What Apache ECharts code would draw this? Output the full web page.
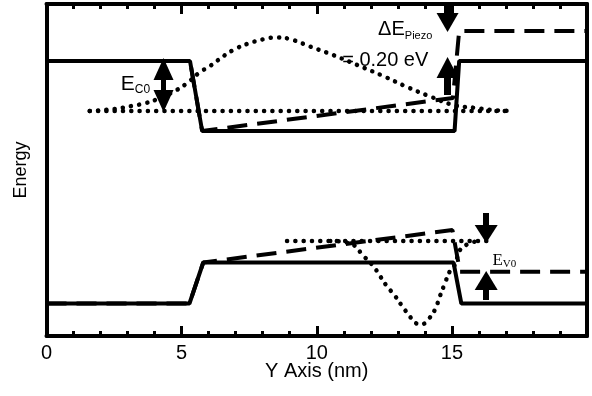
<!DOCTYPE html>
<html><head><meta charset="utf-8">
<script src="https://cdn.jsdelivr.net/npm/echarts@6.0.0/dist/echarts.min.js"></script>
<style>html,body{margin:0;padding:0;background:#fff}#c{width:592px;height:396px}</style>
</head><body><div id="c"></div>
<script>
// ---------- data (x in nm, y in arbitrary energy units) ----------
const xTickLabels = [0, 5, 10, 15];
const xMajorTicks = [5, 10, 15];
const xMinorTicks = [1, 2, 3, 4, 6, 7, 8, 9, 11, 12, 13, 14, 16, 17, 18, 19];

const cbSolidX = [0, 5.31, 5.76, 15.1, 15.27, 20];
const cbSolidY = [275, 275, 205, 205, 275, 275];

const cbDashX = [0, 5.31, 5.76, 15.04, 15.27, 20];
const cbDashY = [275, 275, 205, 238, 305, 305];

const vbSolidX = [0, 5.29, 5.8, 15.06, 15.35, 20];
const vbSolidY = [32.5, 32.5, 73.5, 73.5, 32.5, 32.5];

const vbDashX = [0, 5.29, 5.8, 15.02, 15.3, 20];
const vbDashY = [32.5, 32.5, 73.5, 106, 64.3, 64.3];

const cbLevelX = [1.6, 17.15];
const cbLevelY = [225, 225];

const cbWaveX = [1.6, 2.5, 3.15, 3.68, 4.2, 4.82, 5.3, 5.68, 6.0, 6.3, 6.91, 7.53, 8.15, 8.5, 9.0, 9.75, 10.6, 11.5, 12.5, 13.3, 14.2, 15.05, 15.9, 16.5, 17.15];
const cbWaveY = [225, 227, 230, 233, 238, 246, 255, 264, 269, 275, 286, 293, 297.5, 298.5, 297, 289.5, 281, 271, 259.5, 249.5, 239.5, 231, 228, 226, 225];

const vbLevelX = [8.9, 16.4];
const vbLevelY = [95, 95];

const vbWaveX = [10.5, 11.0, 11.42, 11.67, 12.09, 12.34, 12.59, 12.9, 13.2, 13.39, 13.64, 13.89, 14.13, 14.38, 14.56, 14.75, 14.93, 15.12, 15.3, 15.66, 16.0];
const vbWaveY = [95, 94, 90, 81.7, 70, 60, 50, 40, 28.3, 21.7, 13.3, 11.7, 16.7, 26.7, 40, 53.3, 65, 71.7, 86, 92.7, 95];

// annotation arrows: [x, from y, to y (tip)]
const piezoArrowDown = [14.84, 332, 304];
const piezoArrowUp = [14.84, 241, 279];
const ec0Arrow = [4.33, 224, 278];
const ev0ArrowDown = [16.27, 123, 93];
const ev0ArrowUp = [16.27, 36, 65];

// annotation texts: [x, y]
const piezoLabelPos = [12.27, 306];
const piezoValuePos = [10.94, 276];
const ec0LabelPos = [2.75, 251];
const ev0LabelPos = [16.5, 75];

// ---------- chart ----------
const Y_MIN = 0, Y_MAX = 332;
const zip = (xs, ys) => xs.map((x, i) => [x, ys[i]]);
const FONT = '"Liberation Sans", Arial, sans-serif';
const SERIF = '"Liberation Serif", "Times New Roman", serif';
const solid = {color: '#000', width: 4, type: 'solid'};
const dashed = {color: '#000', width: 4, type: [20, 10]};
const dotted = {color: '#000', width: 4.5, type: [0.1, 8.2], cap: 'round'};

function lineSeries(data, style, smooth) {
  return {type: 'line', data, showSymbol: false,
    lineStyle: style, smooth: smooth || false, silent: true};
}

function arrow(a, headW, headH, shaftW, both) {
  const x = a[0], y0 = a[1], y1 = a[2];
  const dir = y1 > y0 ? 1 : -1;
  const start = both ? y0 + dir * headH / 2 : y0;
  const end = y1 - dir * headH / 2;
  return [
    {coord: [x, start], symbol: both ? 'triangle' : 'none', symbolSize: [headW, headH],
     lineStyle: {color: '#000', width: shaftW, type: 'solid'}},
    {coord: [x, end], symbol: 'triangle', symbolSize: [headW, headH]}
  ];
}

// frame ticks (inside) drawn through the axis scale, bottom and top
function tickSeg(x, fromY, len) {
  return [
    {coord: [x, fromY], symbol: 'none', lineStyle: {color: '#000', width: 3, type: 'solid'}},
    {coord: [x, fromY + len], symbol: 'none'}
  ];
}
const TICK_MAJOR = 10, TICK_MINOR = 5;
const tickData = [];
xMajorTicks.forEach(x => { tickData.push(tickSeg(x, Y_MIN, TICK_MAJOR)); tickData.push(tickSeg(x, Y_MAX, -TICK_MAJOR)); });
xMinorTicks.forEach(x => { tickData.push(tickSeg(x, Y_MIN, TICK_MINOR)); tickData.push(tickSeg(x, Y_MAX, -TICK_MINOR)); });

function textPoint(pos, fmt, rich) {
  return {coord: pos, symbol: 'circle', symbolSize: 0,
    label: {show: true, position: 'right', distance: 0, align: 'left', verticalAlign: 'middle',
      formatter: fmt, rich}};
}

const axisLineStyle = {color: '#000', width: 4};
function makeX(pos, extra) {
  return Object.assign({
    type: 'value', min: 0, max: 20, interval: 5, position: pos,
    axisLine: {show: true, onZero: false, lineStyle: axisLineStyle},
    axisTick: {show: true, inside: true, length: TICK_MAJOR, lineStyle: {color: '#000', width: 3}},
    minorTick: {show: true, splitNumber: 5, length: TICK_MINOR, lineStyle: {color: '#000', width: 3}},
    splitLine: {show: false}
  }, extra);
}

const option = {
  animation: false,
  grid: {left: 46.5, right: 5, top: 4, bottom: 60},
  xAxis: [
    makeX('bottom', {
      axisLabel: {show: true, color: '#000', fontSize: 20, fontFamily: FONT, margin: 10, lineHeight: 14,
        formatter: v => xTickLabels.includes(v) ? String(v) : ''},
      name: 'Y Axis (nm)', nameLocation: 'middle', nameGap: 25, nameMoveOverlap: false,
      nameTextStyle: {color: '#000', fontSize: 20, fontFamily: FONT, lineHeight: 20}
    }),
    makeX('top', {axisLabel: {show: false}})
  ],
  yAxis: [
    {type: 'value', min: Y_MIN, max: Y_MAX, position: 'left',
     axisLine: {show: true, onZero: false, lineStyle: axisLineStyle},
     axisTick: {show: false}, axisLabel: {show: false}, splitLine: {show: false},
     name: 'Energy', nameLocation: 'middle', nameGap: 16, nameRotate: 90, nameMoveOverlap: false,
     nameTextStyle: {color: '#000', fontSize: 18, fontFamily: FONT}},
    {type: 'value', min: Y_MIN, max: Y_MAX, position: 'right',
     axisLine: {show: true, onZero: false, lineStyle: axisLineStyle},
     axisTick: {show: false}, axisLabel: {show: false}, splitLine: {show: false}}
  ],
  series: [
    Object.assign(lineSeries(zip(cbSolidX, cbSolidY), solid), {
      markLine: {
        silent: true, animation: false, label: {show: false}, symbol: ['none', 'none'],
        lineStyle: {color: '#000', width: 3, type: 'solid'},
        data: tickData
      }
    }),
    lineSeries(zip(vbSolidX, vbSolidY), solid),
    lineSeries(zip(cbDashX, cbDashY), dashed),
    lineSeries(zip(vbDashX, vbDashY), dashed),
    lineSeries(zip(cbLevelX, cbLevelY), dotted),
    lineSeries(zip(cbWaveX, cbWaveY), dotted, 0.4),
    lineSeries(zip(vbLevelX, vbLevelY), dotted),
    Object.assign(lineSeries(zip(vbWaveX, vbWaveY), dotted, 0.4), {
      markLine: {
        silent: true, animation: false, label: {show: false},
        lineStyle: {color: '#000', type: 'solid'},
        itemStyle: {color: '#000'},
        data: [
          arrow(piezoArrowDown, 22, 19, 7, false),
          arrow(piezoArrowUp, 22, 21, 7, false),
          arrow(ec0Arrow, 20, 22, 5, true),
          arrow(ev0ArrowDown, 23, 18, 6, false),
          arrow(ev0ArrowUp, 23, 19, 6, false)
        ]
      },
      markPoint: {
        silent: true, animation: false, itemStyle: {color: 'transparent'},
        data: [
          textPoint(piezoLabelPos, '{a|ΔE}{b|Piezo}', {
            a: {fontSize: 20, fontFamily: FONT, color: '#000', lineHeight: 22, verticalAlign: 'top'},
            b: {fontSize: 11, fontFamily: FONT, color: '#000', lineHeight: 10, verticalAlign: 'bottom'}}),
          textPoint(piezoValuePos, '{a|= 0.20 eV}', {
            a: {fontSize: 20, fontFamily: FONT, color: '#000', lineHeight: 22}}),
          textPoint(ec0LabelPos, '{a|E}{b|C0}', {
            a: {fontSize: 21, fontFamily: FONT, color: '#000', lineHeight: 22, verticalAlign: 'top'},
            b: {fontSize: 12, fontFamily: FONT, color: '#000', lineHeight: 10, verticalAlign: 'bottom'}}),
          textPoint(ev0LabelPos, '{a|E}{b|V0}', {
            a: {fontSize: 17, fontFamily: SERIF, color: '#000', lineHeight: 18, verticalAlign: 'top'},
            b: {fontSize: 11, fontFamily: SERIF, color: '#000', lineHeight: 9, verticalAlign: 'bottom'}})
        ]
      }
    })
  ]
};
const chart = echarts.init(document.getElementById('c'));
chart.setOption(option);
</script>
</body></html>
